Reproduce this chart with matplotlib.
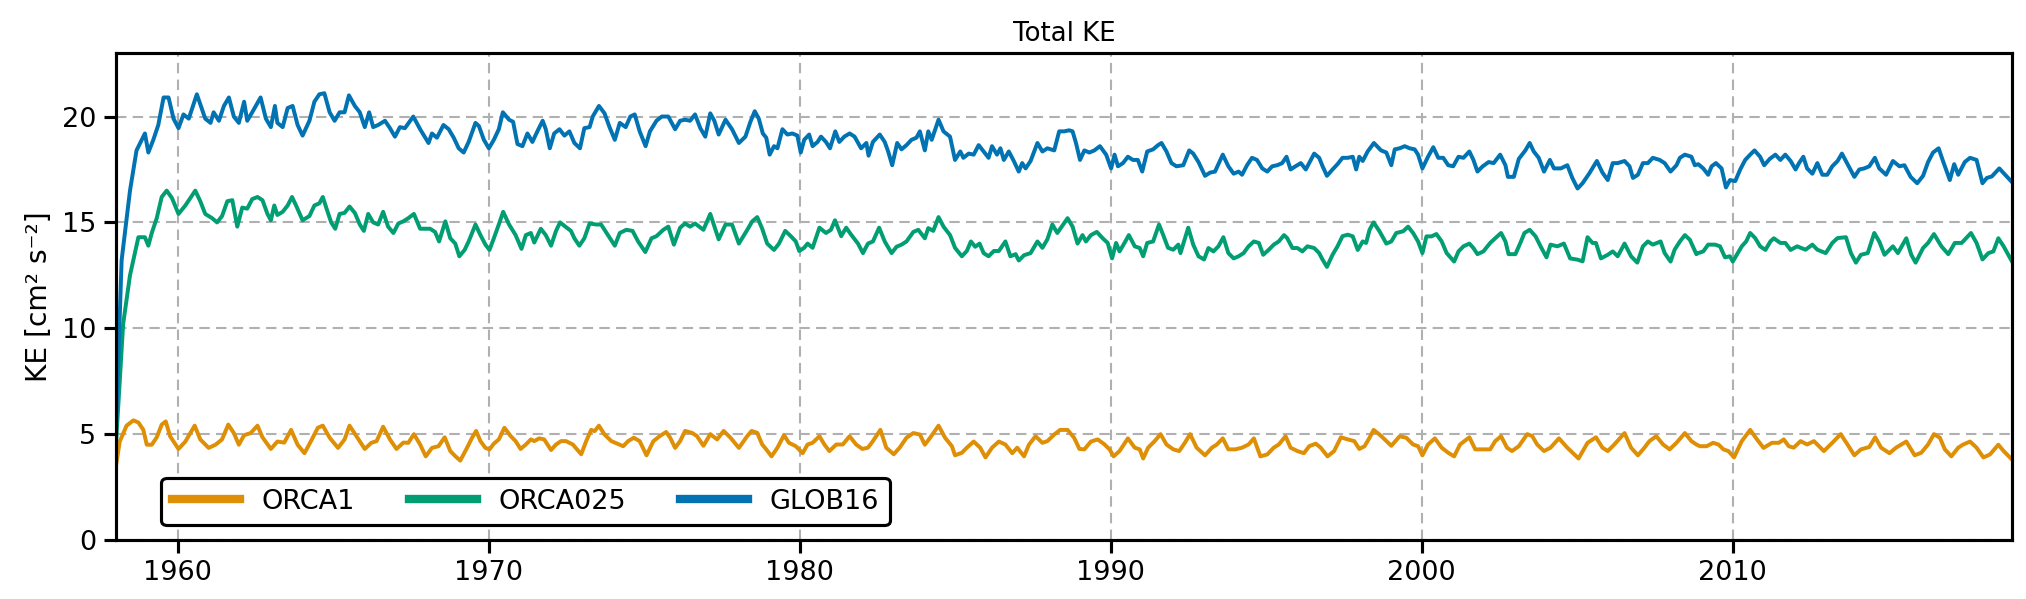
import numpy as np
import matplotlib.pyplot as plt

# ORCA1 (1 degree)
orca1_t = [1958.00, 1958.13, 1958.35, 1958.57, 1958.73, 1958.89, 1959.00, 1959.16, 1959.32, 1959.48,
           1959.61, 1959.75, 1960.02, 1960.24, 1960.40, 1960.54, 1960.72, 1960.99, 1961.21, 1961.42,
           1961.62, 1961.80, 1961.96, 1962.13, 1962.34, 1962.56, 1962.72, 1962.99, 1963.20, 1963.42,
           1963.64, 1963.85, 1964.07, 1964.28, 1964.50, 1964.66, 1964.88, 1965.15, 1965.36, 1965.52,
           1965.74, 1966.01, 1966.22, 1966.39, 1966.60, 1966.82, 1967.03, 1967.25, 1967.41, 1967.59,
           1967.79, 1967.97, 1968.17, 1968.38, 1968.58, 1968.76, 1968.92, 1969.08, 1969.30, 1969.46,
           1969.59, 1969.73, 1969.89, 1970.02, 1970.16, 1970.32, 1970.50, 1970.70, 1970.86, 1971.02,
           1971.19, 1971.35, 1971.46, 1971.62, 1971.78, 1972.00, 1972.16, 1972.32, 1972.48, 1972.70,
           1972.97, 1973.13, 1973.29, 1973.40, 1973.54, 1973.72, 1973.94, 1974.15, 1974.32, 1974.48,
           1974.66, 1974.85, 1975.07, 1975.29, 1975.50, 1975.70, 1975.83, 1975.99, 1976.15, 1976.31,
           1976.53, 1976.69, 1976.90, 1977.12, 1977.34, 1977.55, 1977.77, 1978.04, 1978.31, 1978.45,
           1978.63, 1978.79, 1978.92, 1979.09, 1979.28, 1979.49, 1979.65, 1979.87, 1980.09, 1980.25,
           1980.41, 1980.63, 1980.79, 1980.95, 1981.17, 1981.38, 1981.60, 1981.81, 1982.01, 1982.19,
           1982.35, 1982.59, 1982.78, 1983.02, 1983.21, 1983.43, 1983.65, 1983.86, 1984.02, 1984.19,
           1984.46, 1984.67, 1984.89, 1984.99, 1985.21, 1985.37, 1985.59, 1985.80, 1985.97, 1986.18,
           1986.40, 1986.61, 1986.83, 1986.99, 1987.21, 1987.37, 1987.58, 1987.80, 1987.96, 1988.18,
           1988.37, 1988.61, 1988.82, 1988.99, 1989.15, 1989.36, 1989.58, 1989.80, 1989.96, 1990.09,
           1990.28, 1990.55, 1990.77, 1990.93, 1991.04, 1991.20, 1991.41, 1991.60, 1991.79, 1992.01,
           1992.20, 1992.38, 1992.55, 1992.76, 1993.03, 1993.25, 1993.41, 1993.60, 1993.78, 1994.00,
           1994.22, 1994.43, 1994.60, 1994.81, 1995.03, 1995.24, 1995.40, 1995.62, 1995.78, 1996.00,
           1996.21, 1996.38, 1996.59, 1996.75, 1996.97, 1997.18, 1997.40, 1997.62, 1997.83, 1997.99,
           1998.16, 1998.32, 1998.45, 1998.64, 1998.75, 1999.02, 1999.29, 1999.50, 1999.72, 1999.88,
           2000.02, 2000.20, 2000.42, 2000.64, 2000.85, 2001.04, 2001.23, 2001.53, 2001.72, 2001.93,
           2002.20, 2002.36, 2002.55, 2002.74, 2002.90, 2003.12, 2003.39, 2003.55, 2003.71, 2003.93,
           2004.14, 2004.41, 2004.68, 2005.04, 2005.33, 2005.60, 2005.81, 2005.98, 2006.19, 2006.52,
           2006.73, 2006.95, 2007.16, 2007.32, 2007.54, 2007.76, 2007.97, 2008.19, 2008.46, 2008.67,
           2008.83, 2008.94, 2009.16, 2009.37, 2009.54, 2009.70, 2009.86, 2010.04, 2010.29, 2010.56,
           2010.78, 2010.99, 2011.26, 2011.48, 2011.64, 2011.80, 2011.96, 2012.18, 2012.39, 2012.61,
           2012.93, 2013.20, 2013.47, 2013.69, 2013.91, 2014.12, 2014.39, 2014.58, 2014.77, 2015.04,
           2015.25, 2015.58, 2015.85, 2016.06, 2016.28, 2016.47, 2016.66, 2016.82, 2017.03, 2017.25,
           2017.41, 2017.63, 2017.84, 2018.06, 2018.27, 2018.54, 2018.71, 2018.98]
orca1_ke = [3.40, 4.65, 5.40, 5.65, 5.55, 5.20, 4.50, 4.50, 4.85, 5.45,
            5.60, 4.90, 4.30, 4.65, 5.05, 5.40, 4.75, 4.35, 4.50, 4.75,
            5.45, 5.05, 4.50, 4.95, 5.05, 5.40, 4.85, 4.30, 4.65, 4.60,
            5.20, 4.50, 4.10, 4.67, 5.30, 5.40, 4.83, 4.35, 4.75, 5.40,
            4.91, 4.30, 4.59, 4.67, 5.35, 4.75, 4.30, 4.60, 4.59, 5.00,
            4.51, 3.95, 4.35, 4.43, 4.85, 4.20, 3.96, 3.75, 4.36, 4.83,
            5.15, 4.67, 4.35, 4.28, 4.55, 4.75, 5.30, 4.91, 4.67, 4.30,
            4.51, 4.75, 4.67, 4.80, 4.75, 4.25, 4.51, 4.67, 4.67, 4.51,
            4.05, 4.67, 5.20, 5.14, 5.40, 4.98, 4.67, 4.54, 4.43, 4.67,
            4.83, 4.67, 4.00, 4.67, 4.91, 5.10, 4.83, 4.35, 4.67, 5.15,
            5.06, 4.91, 4.45, 5.00, 4.75, 5.15, 4.83, 4.35, 4.91, 5.15,
            5.06, 4.51, 4.28, 3.95, 4.36, 4.95, 4.59, 4.43, 4.10, 4.51,
            4.59, 4.90, 4.51, 4.20, 4.51, 4.51, 4.90, 4.51, 4.30, 4.36,
            4.67, 5.20, 4.36, 4.05, 4.36, 4.83, 5.05, 4.98, 4.50, 4.83,
            5.40, 4.83, 4.43, 4.00, 4.12, 4.36, 4.65, 4.36, 3.90, 4.36,
            4.65, 4.51, 4.10, 4.36, 3.95, 4.51, 4.90, 4.59, 4.67, 4.98,
            5.20, 5.20, 4.83, 4.30, 4.28, 4.65, 4.75, 4.51, 4.28, 3.95,
            4.20, 4.80, 4.36, 4.28, 3.85, 4.36, 4.67, 5.00, 4.51, 4.28,
            4.20, 4.59, 5.00, 4.36, 4.00, 4.36, 4.51, 4.80, 4.28, 4.28,
            4.36, 4.51, 4.80, 3.95, 4.04, 4.36, 4.51, 4.90, 4.36, 4.20,
            4.10, 4.43, 4.55, 4.36, 3.95, 4.20, 4.85, 4.75, 4.67, 4.30,
            4.43, 4.83, 5.20, 4.98, 4.83, 4.45, 4.90, 4.83, 4.51, 4.43,
            4.00, 4.51, 4.80, 4.36, 4.12, 3.95, 4.51, 4.85, 4.28, 4.28,
            4.28, 4.67, 4.90, 4.36, 4.20, 4.43, 5.00, 4.91, 4.51, 4.20,
            4.36, 4.80, 4.36, 3.85, 4.59, 4.85, 4.36, 4.20, 4.51, 5.05,
            4.36, 4.00, 4.36, 4.67, 4.90, 4.51, 4.28, 4.59, 5.05, 4.67,
            4.51, 4.43, 4.43, 4.59, 4.51, 4.28, 4.20, 3.90, 4.67, 5.20,
            4.75, 4.35, 4.59, 4.59, 4.75, 4.43, 4.36, 4.67, 4.51, 4.67,
            4.20, 4.59, 5.00, 4.51, 4.00, 4.28, 4.39, 4.85, 4.36, 4.10,
            4.36, 4.65, 4.00, 4.12, 4.51, 5.00, 4.83, 4.28, 3.95, 4.36,
            4.51, 4.65, 4.36, 3.90, 4.04, 4.50, 4.20, 3.80]

# ORCA025 (1/4 degree)
orca025_t = [1958.00, 1958.24, 1958.46, 1958.73, 1958.94, 1959.05, 1959.16, 1959.32, 1959.48, 1959.64,
             1959.81, 1960.02, 1960.24, 1960.40, 1960.56, 1960.72, 1960.88, 1961.10, 1961.26, 1961.42,
             1961.59, 1961.75, 1961.91, 1962.07, 1962.23, 1962.39, 1962.56, 1962.72, 1962.88, 1962.99,
             1963.10, 1963.20, 1963.37, 1963.53, 1963.67, 1963.80, 1964.01, 1964.23, 1964.39, 1964.55,
             1964.66, 1964.77, 1964.93, 1965.06, 1965.20, 1965.36, 1965.52, 1965.69, 1965.85, 1965.98,
             1966.12, 1966.28, 1966.44, 1966.60, 1966.76, 1966.93, 1967.09, 1967.25, 1967.41, 1967.59,
             1967.79, 1968.11, 1968.27, 1968.40, 1968.60, 1968.76, 1968.92, 1969.05, 1969.22, 1969.35,
             1969.57, 1969.73, 1969.89, 1970.02, 1970.16, 1970.32, 1970.46, 1970.65, 1970.86, 1971.05,
             1971.19, 1971.35, 1971.46, 1971.67, 1971.83, 1972.00, 1972.16, 1972.29, 1972.46, 1972.64,
             1972.75, 1972.91, 1973.07, 1973.24, 1973.45, 1973.61, 1973.83, 1974.05, 1974.21, 1974.42,
             1974.62, 1974.80, 1975.03, 1975.23, 1975.39, 1975.61, 1975.77, 1975.95, 1976.15, 1976.31,
             1976.47, 1976.63, 1976.90, 1977.12, 1977.39, 1977.61, 1977.82, 1978.04, 1978.31, 1978.47,
             1978.63, 1978.79, 1978.95, 1979.17, 1979.33, 1979.53, 1979.71, 1979.87, 1979.98, 1980.14,
             1980.25, 1980.41, 1980.63, 1980.84, 1981.00, 1981.13, 1981.33, 1981.49, 1981.65, 1981.87,
             1982.03, 1982.19, 1982.35, 1982.55, 1982.73, 1982.95, 1983.11, 1983.27, 1983.43, 1983.65,
             1983.81, 1984.02, 1984.13, 1984.29, 1984.46, 1984.62, 1984.83, 1984.99, 1985.21, 1985.37,
             1985.50, 1985.64, 1985.78, 1985.91, 1986.07, 1986.24, 1986.40, 1986.61, 1986.77, 1986.94,
             1987.04, 1987.21, 1987.42, 1987.64, 1987.80, 1987.96, 1988.12, 1988.28, 1988.47, 1988.61,
             1988.77, 1988.93, 1989.09, 1989.20, 1989.36, 1989.55, 1989.74, 1989.90, 1990.04, 1990.17,
             1990.28, 1990.44, 1990.58, 1990.77, 1990.93, 1991.04, 1991.17, 1991.36, 1991.55, 1991.68,
             1991.84, 1992.01, 1992.17, 1992.24, 1992.49, 1992.65, 1992.82, 1993.00, 1993.14, 1993.30,
             1993.46, 1993.62, 1993.78, 1993.95, 1994.11, 1994.27, 1994.43, 1994.60, 1994.76, 1994.90,
             1995.08, 1995.24, 1995.40, 1995.57, 1995.67, 1995.84, 1996.00, 1996.16, 1996.32, 1996.54,
             1996.70, 1996.81, 1996.95, 1997.13, 1997.29, 1997.45, 1997.62, 1997.78, 1997.94, 1998.10,
             1998.21, 1998.32, 1998.45, 1998.64, 1998.86, 1999.02, 1999.18, 1999.40, 1999.56, 1999.72,
             1999.88, 2000.02, 2000.15, 2000.31, 2000.47, 2000.64, 2000.80, 2001.04, 2001.18, 2001.34,
             2001.53, 2001.66, 2001.79, 2001.98, 2002.20, 2002.36, 2002.55, 2002.69, 2002.79, 2003.01,
             2003.17, 2003.30, 2003.47, 2003.66, 2003.82, 2004.01, 2004.14, 2004.36, 2004.57, 2004.77,
             2005.01, 2005.17, 2005.33, 2005.49, 2005.60, 2005.76, 2005.98, 2006.14, 2006.30, 2006.52,
             2006.73, 2006.93, 2007.11, 2007.27, 2007.43, 2007.68, 2007.81, 2008.00, 2008.13, 2008.30,
             2008.46, 2008.62, 2008.83, 2008.89, 2009.05, 2009.21, 2009.43, 2009.59, 2009.75, 2009.91,
             2010.00, 2010.13, 2010.29, 2010.43, 2010.56, 2010.72, 2010.88, 2011.05, 2011.21, 2011.32,
             2011.53, 2011.69, 2011.86, 2012.07, 2012.34, 2012.56, 2012.72, 2012.99, 2013.20, 2013.37,
             2013.64, 2013.80, 2013.96, 2014.12, 2014.34, 2014.55, 2014.71, 2014.88, 2015.15, 2015.31,
             2015.58, 2015.74, 2015.88, 2016.12, 2016.28, 2016.47, 2016.71, 2016.93, 2017.14, 2017.36,
             2017.66, 2017.84, 2018.03, 2018.22, 2018.38, 2018.54, 2018.71, 2018.98]
orca025_ke = [4.30, 10.20, 12.50, 14.30, 14.30, 13.90, 14.50, 15.20, 16.20, 16.50,
              16.15, 15.40, 15.80, 16.15, 16.50, 16.00, 15.40, 15.20, 15.00, 15.30,
              16.00, 16.05, 14.80, 15.70, 15.65, 16.10, 16.20, 16.05, 15.40, 15.10,
              15.80, 15.35, 15.50, 15.80, 16.20, 15.80, 15.10, 15.30, 15.80, 15.90,
              16.20, 15.70, 15.00, 14.70, 15.40, 15.45, 15.75, 15.45, 14.90, 14.60,
              15.40, 15.00, 14.90, 15.50, 14.80, 14.50, 14.95, 15.05, 15.20, 15.40,
              14.70, 14.70, 14.55, 14.10, 15.05, 14.25, 14.00, 13.40, 13.70, 14.10,
              14.90, 14.40, 13.95, 13.70, 14.25, 14.90, 15.50, 14.90, 14.40, 13.75,
              14.40, 14.50, 14.05, 14.70, 14.40, 13.90, 14.60, 15.00, 14.80, 14.60,
              14.25, 13.90, 14.25, 14.95, 14.90, 14.90, 14.40, 13.90, 14.50, 14.65,
              14.60, 14.10, 13.60, 14.25, 14.35, 14.65, 14.80, 13.95, 14.75, 14.95,
              14.80, 14.95, 14.65, 15.40, 14.20, 14.90, 14.90, 14.00, 14.65, 15.05,
              15.25, 14.70, 14.00, 13.70, 14.00, 14.60, 14.35, 14.10, 13.65, 13.80,
              14.00, 13.80, 14.75, 14.50, 14.65, 15.10, 14.35, 14.75, 14.42, 14.00,
              13.55, 14.00, 14.10, 14.75, 14.10, 13.55, 13.85, 13.95, 14.10, 14.55,
              14.65, 14.25, 14.73, 14.60, 15.25, 14.80, 14.40, 13.80, 13.40, 13.65,
              14.10, 13.85, 14.00, 13.55, 13.40, 13.65, 13.65, 14.10, 13.40, 13.50,
              13.20, 13.45, 13.55, 14.10, 13.80, 14.20, 14.90, 14.50, 14.90, 15.20,
              14.80, 14.00, 14.40, 14.10, 14.40, 14.55, 14.25, 14.03, 13.30, 14.03,
              13.63, 14.03, 14.40, 13.87, 13.79, 13.40, 14.03, 14.10, 14.90, 14.42,
              13.80, 13.71, 13.95, 13.55, 14.75, 13.95, 13.40, 13.25, 13.79, 13.63,
              13.87, 14.30, 13.55, 13.30, 13.40, 13.55, 13.87, 14.10, 14.03, 13.47,
              13.71, 13.95, 14.10, 14.40, 14.26, 13.79, 13.79, 13.63, 13.87, 13.79,
              13.55, 13.24, 12.90, 13.47, 13.87, 14.35, 14.42, 14.34, 13.70, 14.10,
              14.03, 14.65, 15.00, 14.58, 14.00, 14.10, 14.50, 14.58, 14.80, 14.50,
              14.10, 13.55, 14.34, 14.34, 14.45, 14.10, 13.55, 13.15, 13.63, 13.87,
              14.00, 13.79, 13.50, 13.63, 14.03, 14.25, 14.50, 14.10, 13.50, 13.50,
              14.03, 14.50, 14.65, 14.34, 13.87, 13.35, 13.95, 13.87, 14.00, 13.30,
              13.24, 13.16, 14.30, 14.03, 14.03, 13.30, 13.47, 13.63, 13.40, 14.00,
              13.40, 13.10, 13.87, 14.10, 13.95, 14.10, 13.55, 13.15, 13.71, 14.10,
              14.40, 14.18, 13.50, 13.55, 13.63, 13.95, 13.95, 13.87, 13.35, 13.40,
              13.15, 13.47, 13.87, 14.10, 14.50, 14.26, 13.87, 13.70, 14.10, 14.25,
              14.03, 14.03, 13.70, 13.87, 13.71, 13.95, 13.71, 13.55, 14.03, 14.26,
              14.30, 13.55, 13.10, 13.47, 13.55, 14.50, 14.10, 13.47, 13.87, 13.55,
              14.25, 13.47, 13.10, 13.79, 14.03, 14.45, 13.87, 13.50, 14.03, 14.03,
              14.50, 14.03, 13.25, 13.55, 13.63, 14.25, 13.87, 13.15]

# GLOB16 (1/16 degree)
glob16_t = [1958.00, 1958.19, 1958.46, 1958.67, 1958.94, 1959.05, 1959.21, 1959.37, 1959.54, 1959.70,
            1959.86, 1960.02, 1960.18, 1960.35, 1960.61, 1960.88, 1961.05, 1961.15, 1961.32, 1961.48,
            1961.64, 1961.80, 1961.96, 1962.13, 1962.23, 1962.39, 1962.66, 1962.83, 1962.99, 1963.12,
            1963.20, 1963.37, 1963.53, 1963.69, 1963.85, 1964.01, 1964.23, 1964.39, 1964.55, 1964.71,
            1964.88, 1965.04, 1965.20, 1965.36, 1965.50, 1965.69, 1965.85, 1966.01, 1966.15, 1966.28,
            1966.44, 1966.66, 1966.82, 1966.98, 1967.14, 1967.30, 1967.57, 1967.79, 1968.06, 1968.17,
            1968.33, 1968.54, 1968.71, 1968.87, 1969.03, 1969.19, 1969.35, 1969.57, 1969.68, 1969.84,
            1970.00, 1970.16, 1970.32, 1970.45, 1970.65, 1970.78, 1970.92, 1971.08, 1971.24, 1971.40,
            1971.56, 1971.73, 1971.83, 1971.96, 1972.10, 1972.27, 1972.43, 1972.59, 1972.75, 1972.93,
            1973.07, 1973.24, 1973.34, 1973.54, 1973.72, 1973.88, 1974.05, 1974.21, 1974.40, 1974.55,
            1974.69, 1974.85, 1975.04, 1975.18, 1975.39, 1975.56, 1975.77, 1975.99, 1976.15, 1976.31,
            1976.47, 1976.63, 1976.80, 1976.96, 1977.12, 1977.25, 1977.39, 1977.61, 1977.82, 1978.04,
            1978.25, 1978.41, 1978.55, 1978.68, 1978.81, 1978.92, 1979.03, 1979.17, 1979.28, 1979.44,
            1979.60, 1979.76, 1979.92, 1980.03, 1980.14, 1980.30, 1980.41, 1980.57, 1980.68, 1980.84,
            1980.97, 1981.14, 1981.27, 1981.43, 1981.60, 1981.76, 1981.97, 1982.14, 1982.21, 1982.35,
            1982.57, 1982.73, 1982.84, 1982.97, 1983.13, 1983.27, 1983.43, 1983.59, 1983.75, 1983.86,
            1984.02, 1984.13, 1984.24, 1984.46, 1984.62, 1984.83, 1984.99, 1985.16, 1985.26, 1985.43,
            1985.59, 1985.75, 1985.91, 1986.07, 1986.18, 1986.34, 1986.45, 1986.56, 1986.72, 1986.88,
            1987.04, 1987.15, 1987.26, 1987.42, 1987.64, 1987.80, 1987.96, 1988.18, 1988.34, 1988.50,
            1988.66, 1988.77, 1988.88, 1989.01, 1989.15, 1989.31, 1989.47, 1989.65, 1989.85, 1990.01,
            1990.12, 1990.23, 1990.39, 1990.55, 1990.71, 1990.87, 1991.01, 1991.17, 1991.36, 1991.52,
            1991.63, 1991.79, 1991.95, 1992.11, 1992.33, 1992.52, 1992.65, 1992.82, 1993.03, 1993.19,
            1993.35, 1993.60, 1993.78, 1993.95, 1994.11, 1994.22, 1994.38, 1994.54, 1994.70, 1994.87,
            1995.03, 1995.19, 1995.35, 1995.51, 1995.65, 1995.78, 1995.94, 1996.11, 1996.27, 1996.54,
            1996.70, 1996.81, 1996.95, 1997.13, 1997.29, 1997.45, 1997.62, 1997.78, 1997.89, 1997.99,
            1998.10, 1998.26, 1998.46, 1998.69, 1998.86, 1999.02, 1999.13, 1999.29, 1999.45, 1999.61,
            1999.77, 1999.88, 2000.02, 2000.20, 2000.37, 2000.53, 2000.69, 2000.85, 2001.01, 2001.18,
            2001.34, 2001.53, 2001.66, 2001.79, 2001.96, 2002.15, 2002.31, 2002.52, 2002.69, 2002.77,
            2002.96, 2003.12, 2003.33, 2003.47, 2003.60, 2003.76, 2003.93, 2004.12, 2004.25, 2004.47,
            2004.68, 2004.84, 2005.01, 2005.17, 2005.38, 2005.63, 2005.81, 2005.98, 2006.14, 2006.30,
            2006.52, 2006.68, 2006.79, 2006.95, 2007.11, 2007.27, 2007.43, 2007.65, 2007.81, 2008.00,
            2008.19, 2008.30, 2008.46, 2008.67, 2008.78, 2008.89, 2009.05, 2009.21, 2009.32, 2009.46,
            2009.64, 2009.78, 2009.91, 2010.08, 2010.24, 2010.40, 2010.56, 2010.70, 2010.88, 2011.01,
            2011.19, 2011.37, 2011.53, 2011.69, 2011.86, 2012.02, 2012.13, 2012.27, 2012.39, 2012.56,
            2012.72, 2012.88, 2013.04, 2013.20, 2013.37, 2013.51, 2013.69, 2013.91, 2014.07, 2014.23,
            2014.39, 2014.57, 2014.71, 2014.93, 2015.15, 2015.36, 2015.52, 2015.72, 2015.93, 2016.12,
            2016.28, 2016.44, 2016.62, 2016.76, 2016.98, 2017.12, 2017.25, 2017.46, 2017.63, 2017.84,
            2018.03, 2018.17, 2018.33, 2018.57, 2018.76, 2018.98]
glob16_ke = [4.80, 13.20, 16.50, 18.40, 19.20, 18.30, 18.90, 19.60, 20.90, 20.90,
             19.90, 19.45, 20.10, 19.90, 21.05, 19.90, 19.70, 20.20, 19.80, 20.50,
             20.90, 20.00, 19.70, 20.70, 19.80, 20.20, 20.90, 19.90, 19.50, 20.50,
             19.70, 19.50, 20.40, 20.50, 19.60, 19.10, 19.80, 20.70, 21.05, 21.10,
             20.20, 19.80, 20.20, 20.20, 21.00, 20.50, 20.20, 19.50, 20.20, 19.50,
             19.60, 19.80, 19.45, 19.05, 19.50, 19.45, 20.00, 19.40, 18.75, 19.20,
             19.00, 19.60, 19.40, 19.00, 18.50, 18.30, 18.80, 19.70, 19.55, 18.90,
             18.50, 18.90, 19.40, 20.20, 19.85, 19.75, 18.70, 18.60, 19.20, 18.80,
             19.30, 19.80, 19.40, 18.50, 19.20, 19.40, 19.10, 19.30, 18.75, 18.50,
             19.45, 19.50, 20.00, 20.50, 20.15, 19.50, 18.90, 19.70, 19.50, 20.00,
             20.10, 19.30, 18.60, 19.30, 19.80, 20.00, 20.00, 19.40, 19.80, 19.85,
             19.80, 20.10, 19.45, 19.05, 20.15, 19.80, 19.15, 19.85, 19.40, 18.75,
             19.05, 19.75, 20.25, 19.90, 19.20, 19.00, 18.20, 18.60, 18.50, 19.40,
             19.15, 19.20, 19.10, 18.30, 18.90, 19.15, 18.60, 18.80, 19.05, 18.80,
             18.50, 19.30, 18.80, 19.05, 19.20, 19.05, 18.50, 18.75, 18.15, 18.80,
             19.15, 18.80, 18.35, 17.70, 18.75, 18.45, 18.65, 18.90, 19.00, 19.30,
             18.40, 19.30, 18.90, 19.85, 19.30, 19.05, 17.95, 18.35, 18.05, 18.25,
             18.20, 18.65, 18.35, 18.05, 18.60, 18.20, 18.50, 17.95, 18.35, 17.90,
             17.40, 17.80, 17.55, 17.90, 18.75, 18.35, 18.50, 18.40, 19.30, 19.30,
             19.35, 19.30, 18.75, 17.95, 18.40, 18.30, 18.40, 18.60, 18.20, 17.55,
             18.20, 17.65, 17.80, 18.10, 17.95, 17.95, 17.40, 18.35, 18.45, 18.65,
             18.75, 18.35, 17.80, 17.65, 17.70, 18.40, 18.25, 17.85, 17.20, 17.35,
             17.40, 18.20, 17.65, 17.30, 17.40, 17.25, 17.70, 18.05, 17.95, 17.55,
             17.40, 17.65, 17.70, 17.80, 18.10, 17.50, 17.65, 17.80, 17.50, 18.25,
             18.05, 17.65, 17.20, 17.50, 17.75, 18.05, 18.05, 18.10, 17.50, 18.10,
             17.90, 18.35, 18.75, 18.40, 18.30, 17.70, 18.45, 18.50, 18.60, 18.50,
             18.45, 18.20, 17.55, 18.10, 18.55, 18.05, 18.05, 17.70, 17.65, 18.10,
             18.05, 18.35, 17.95, 17.40, 17.65, 17.85, 17.80, 18.20, 17.70, 17.15,
             17.15, 18.00, 18.40, 18.75, 18.35, 18.05, 17.40, 17.95, 17.55, 17.55,
             17.70, 17.10, 16.60, 16.85, 17.30, 17.90, 17.35, 17.00, 17.80, 17.80,
             17.90, 17.65, 17.10, 17.25, 17.80, 17.80, 18.05, 17.95, 17.80, 17.40,
             17.70, 18.05, 18.20, 18.10, 17.70, 17.75, 17.55, 17.25, 17.65, 17.80,
             17.55, 16.65, 17.00, 16.95, 17.50, 17.95, 18.20, 18.40, 18.10, 17.70,
             18.00, 18.20, 17.95, 18.20, 17.90, 17.50, 17.80, 18.10, 17.55, 17.30,
             17.80, 17.25, 17.25, 17.65, 17.90, 18.25, 17.75, 17.15, 17.50, 17.55,
             17.65, 18.05, 17.55, 17.25, 17.90, 17.65, 17.70, 17.15, 16.85, 17.20,
             17.85, 18.30, 18.50, 17.90, 17.00, 17.75, 17.25, 17.85, 18.05, 17.95,
             16.85, 17.10, 17.17, 17.55, 17.25, 16.90]

series = [('ORCA1', orca1_t, orca1_ke, '#de8f05'),
          ('ORCA025', orca025_t, orca025_ke, '#029e73'),
          ('GLOB16', glob16_t, glob16_ke, '#0173b2')]

plt.rcParams['font.family'] = 'DejaVu Sans'
plt.rcParams['font.size'] = 13

fig, ax = plt.subplots(figsize=(2026 / 150, 599 / 150), dpi=150)
fig.subplots_adjust(left=0.0571, right=0.9931, bottom=0.0985, top=0.9115)

for name, t, ke, col in series:
    ax.plot(t, ke, color=col, linewidth=1.9, label=name)

# сетка и оси
ax.grid(True, color='#b0b0b0', linestyle=(0, (5, 3)), linewidth=1.0)
ax.set_axisbelow(True)
for sp in ax.spines.values():
    sp.set_linewidth(1.5)
    sp.set_color('black')
ax.tick_params(axis='both', which='major', labelsize=13, width=1.5, length=6, direction='out')

ax.set_xlim(min(orca1_t), max(orca1_t))
ax.set_ylim(0, 23)
ax.set_xticks([1960, 1970, 1980, 1990, 2000, 2010])
ax.set_yticks([0, 5, 10, 15, 20])

ax.set_title('Total KE', fontsize=12.5)
ax.set_ylabel('KE [cm² s⁻²]', fontsize=13.5)

leg = ax.legend(loc='lower left', bbox_to_anchor=(0.024, 0.03), borderaxespad=0,
                ncol=3, fontsize=13, handlelength=2.5, frameon=True, fancybox=True,
                framealpha=1, edgecolor='black')
leg.get_frame().set_linewidth(1.5)
for line in leg.get_lines():
    line.set_linewidth(4)

plt.savefig('out.png', dpi=150)
